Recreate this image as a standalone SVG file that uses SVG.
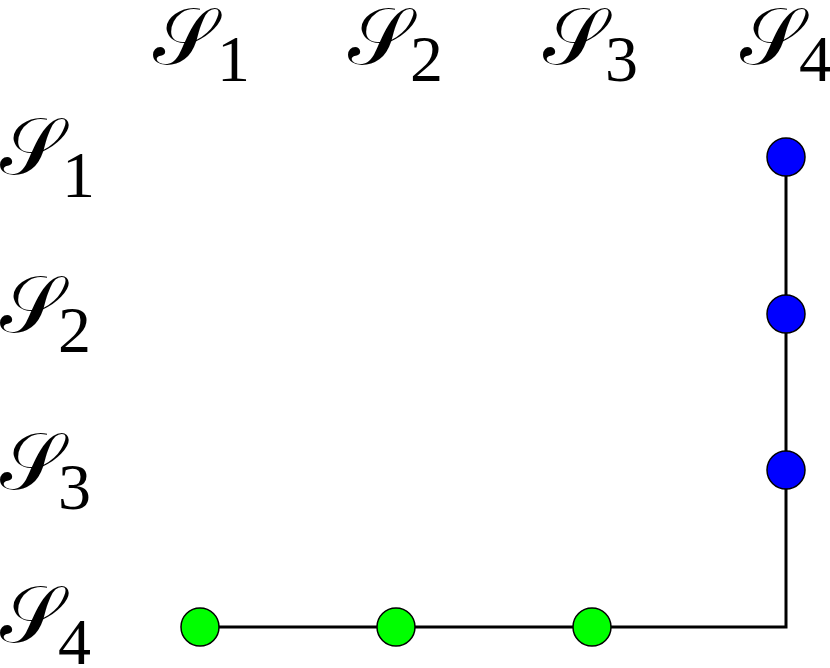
<svg xmlns="http://www.w3.org/2000/svg" width="830" height="668" viewBox="0 0 830 668">
<style>
.lbl{font-family:"DejaVu Serif","Liberation Serif",serif;font-size:80px;fill:#000}
.sub{font-family:"Liberation Serif","Times New Roman",serif;font-size:66px}
.blue{fill:#0000ff;stroke:#000;stroke-width:1.5}
.green{fill:#00ff00;stroke:#000;stroke-width:1.5}
.conn{fill:none;stroke:#000;stroke-width:3}
</style>
<rect width="830" height="668" fill="#fff"/>
<g id="col-labels">
<text class="lbl" x="153" y="64">𝒮<tspan class="sub" x="217" y="81">1</tspan></text>
<text class="lbl" x="348" y="64">𝒮<tspan class="sub" x="410" y="81">2</tspan></text>
<text class="lbl" x="543" y="64">𝒮<tspan class="sub" x="605" y="81">3</tspan></text>
<text class="lbl" x="740" y="64">𝒮<tspan class="sub" x="799" y="81">4</tspan></text>
</g>
<g id="row-labels">
<text class="lbl" x="0" y="174">𝒮<tspan class="sub" x="62" y="197">1</tspan></text>
<text class="lbl" x="0" y="332">𝒮<tspan class="sub" x="58" y="352">2</tspan></text>
<text class="lbl" x="0" y="489">𝒮<tspan class="sub" x="58" y="509">3</tspan></text>
<text class="lbl" x="0" y="642">𝒮<tspan class="sub" x="58" y="664">4</tspan></text>
</g>
<g id="connectors">
<path class="conn" d="M200 627 H786 V157"/>
</g>
<g id="n-1-4"><circle class="blue" cx="786" cy="157" r="19"/></g>
<g id="n-2-4"><circle class="blue" cx="786" cy="314" r="19"/></g>
<g id="n-3-4"><circle class="blue" cx="786" cy="470" r="19"/></g>
<g id="n-4-1"><circle class="green" cx="200" cy="627" r="19"/></g>
<g id="n-4-2"><circle class="green" cx="396" cy="627" r="19"/></g>
<g id="n-4-3"><circle class="green" cx="592" cy="627" r="19"/></g>
</svg>
